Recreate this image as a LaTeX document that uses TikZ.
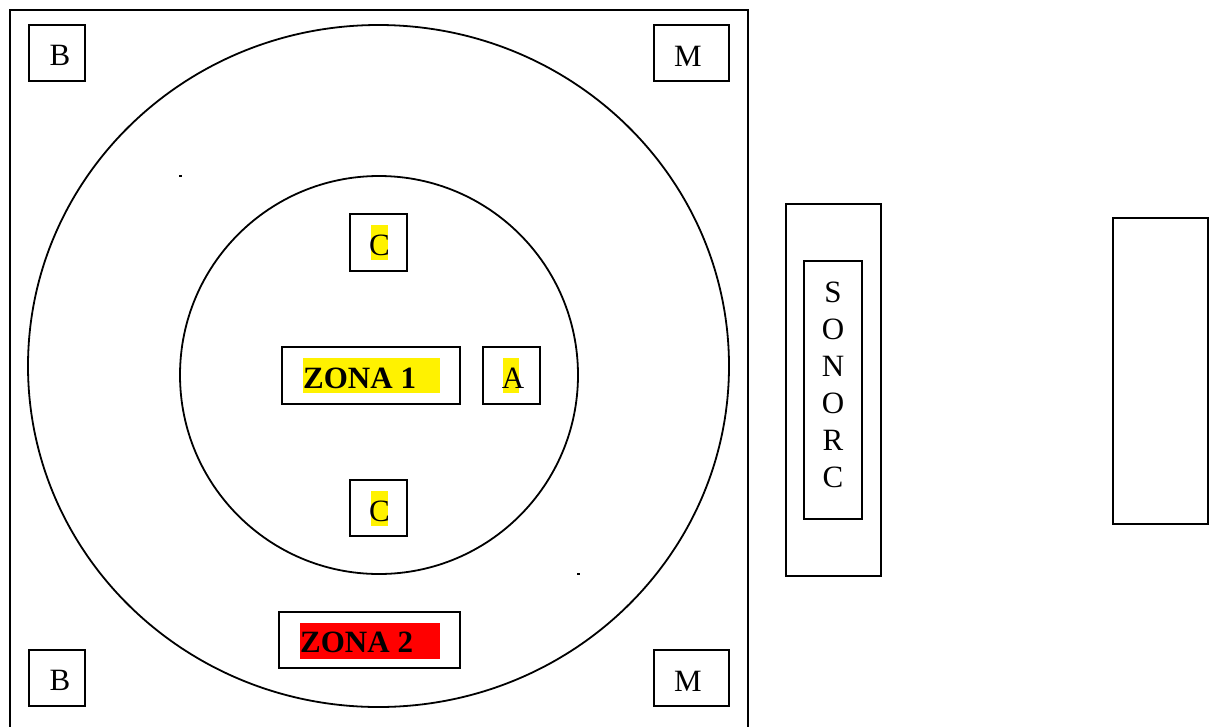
\documentclass[tikz,border=0pt]{standalone}
\usepackage{fontspec}
\setmainfont{Liberation Serif}
\begin{document}
\begin{tikzpicture}[x=1pt,y=-1pt,
  box/.style={draw, line width=1.8pt, inner sep=0pt, minimum width=#1},
  box/.default=56pt,
  lbl/.style={inner sep=0pt, anchor=base, font=\fontsize{31}{37}\selectfont},
  bold/.style={lbl, anchor=base west, font=\fontsize{31}{37}\selectfont\bfseries},
  line/.style={line width=1.8pt}]
\useasboundingbox (0,0) rectangle (1215,726);
\clip (0,0) rectangle (1215,726);

% stage outline (open at the bottom edge)
\draw[line] (10,740) -- (10,10) -- (748,10) -- (748,740);

% rings
\draw[line] (378.5,366) ellipse [x radius=350.5, y radius=341];
\draw[line] (379,375) circle [radius=199];

% marker dots
\fill (178.5,175) rectangle (181.5,177);
\fill (576.5,573) rectangle (579.5,575);

% corner boxes
\node[box, minimum height=56pt] (b1) at (57,53) {};
\node[box, minimum height=56pt] (b2) at (57,678) {};
\node[box=75pt, minimum height=56pt] (m1) at (691.5,53) {};
\node[box=75pt, minimum height=56pt] (m2) at (691.5,678) {};
\node[lbl] (tb1) at (60,65) {B};
\node[lbl] (tb2) at (60,690) {B};
\node[lbl] (tm1) at (688,66) {M};
\node[lbl] (tm2) at (688,691) {M};

% inner boxes
\node[box=57pt, minimum height=57pt] (c1) at (378.5,242.5) {};
\node[box=57pt, minimum height=56pt] (c2) at (378.5,508) {};
\node[box=178pt, minimum height=57pt] (z1) at (371,375.5) {};
\node[box=57pt, minimum height=57pt] (a) at (511.5,375.5) {};
\node[box=181pt, minimum height=56pt] (z2) at (369.5,640) {};

% highlights
\fill[yellow] (371,225) rectangle (388,260);
\fill[yellow] (371,491) rectangle (388,526);
\fill[yellow] (303,358) rectangle (440,393);
\fill[yellow] (503,358) rectangle (519,393);
\fill[red] (300,623) rectangle (440,659);

\node[lbl] (tc1) at (379.5,255) {C};
\node[lbl] (tc2) at (379.5,521) {C};
\node[lbl] (ta) at (513,388) {A};
\node[bold] (tz1) at (303,388) {ZONA 1};
\node[bold] (tz2) at (300,652) {ZONA 2};

% sound desk
\node[box=95pt, minimum height=372pt] (s1) at (833.5,390) {};
\node[box=58pt, minimum height=258pt] (s2) at (833,390) {};
\node[lbl, align=center] (ts) at (833,487) {S\\O\\N\\O\\R\\C};

% right-hand block
\node[box=95pt, minimum height=306pt] (r) at (1160.5,371) {};
\end{tikzpicture}
\end{document}
